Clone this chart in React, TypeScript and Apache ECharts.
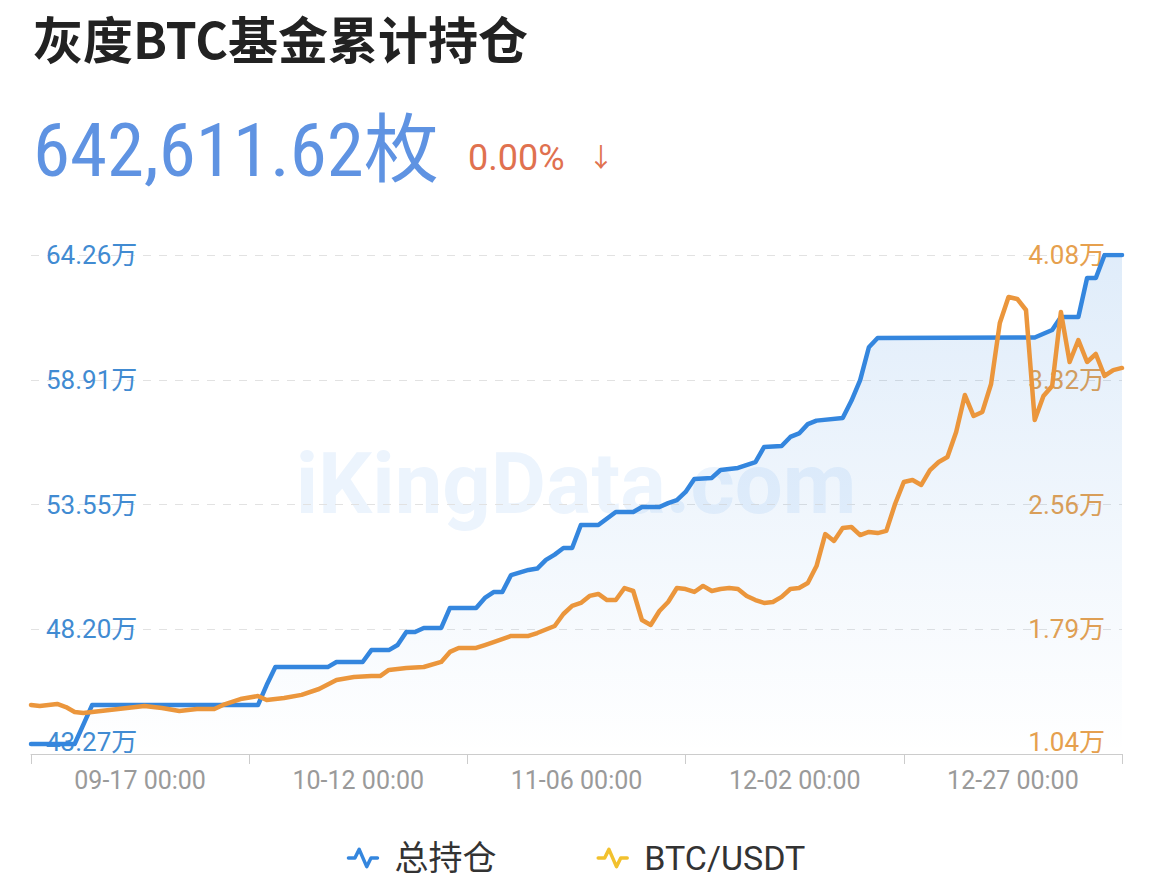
import React, { useEffect, useRef } from 'react';
import * as echarts from 'echarts';

const TITLE = '灰度BTC基金累计持仓';
const HOLDING_TEXT = '642,611.62枚';
const CHANGE_TEXT = '0.00%';
const CHANGE_ARROW = '↓';
const WATERMARK = 'iKingData.com';

const seriesNames = ['总持仓', 'BTC/USDT'];
const xCategoryLabels = ['09-17 00:00', '10-12 00:00', '11-06 00:00', '12-02 00:00', '12-27 00:00'];
const dateRange = ['2020-09-05', '2021-01-08'];

const leftTickValues = [428400, 481950, 535500, 589050, 642600];
const leftTickLabels = ['43.27万', '48.20万', '53.55万', '58.91万', '64.26万'];
const rightTickValues = [10400, 18000, 25600, 33200, 40800];
const rightTickLabels = ['1.04万', '1.79万', '2.56万', '3.32万', '4.08万'];

const holdingDates = [
  '2020-09-05', '2020-09-10', '2020-09-11', '2020-09-12', '2020-10-01', '2020-10-02', '2020-10-03',
  '2020-10-09', '2020-10-10', '2020-10-13', '2020-10-14', '2020-10-16', '2020-10-17', '2020-10-18',
  '2020-10-19', '2020-10-20', '2020-10-22', '2020-10-23', '2020-10-26', '2020-10-27', '2020-10-28',
  '2020-10-29', '2020-10-30', '2020-11-01', '2020-11-02', '2020-11-03', '2020-11-04', '2020-11-05',
  '2020-11-06', '2020-11-07', '2020-11-09', '2020-11-11', '2020-11-13', '2020-11-14', '2020-11-16',
  '2020-11-17', '2020-11-18', '2020-11-19', '2020-11-20', '2020-11-22', '2020-11-23', '2020-11-25',
  '2020-11-27', '2020-11-28', '2020-11-30', '2020-12-01', '2020-12-02', '2020-12-03', '2020-12-04',
  '2020-12-07', '2020-12-08', '2020-12-09', '2020-12-10', '2020-12-11', '2020-12-29', '2020-12-31',
  '2021-01-01', '2021-01-03', '2021-01-04', '2021-01-05', '2021-01-06', '2021-01-08',
];
const holdingValues = [
  432700, 432700, 441000, 449400, 449400, 458000, 465700,
  465700, 467900, 467900, 473000, 473000, 475200, 480800,
  480800, 482500, 482500, 491100, 491100, 495400, 497900,
  497900, 505200, 507400, 508000, 511700, 514000, 516800,
  516800, 526700, 526700, 532300, 532300, 534400, 534400,
  536100, 537400, 540900, 546400, 546900, 550300, 551200,
  553700, 560200, 560600, 564500, 566000, 570000, 571500,
  572600, 580000, 588900, 603000, 607000, 607200, 610400,
  616000, 616000, 632700, 632700, 642611.62, 642611.62,
];

const priceDates = [
  '2020-09-05', '2020-09-06', '2020-09-07', '2020-09-08', '2020-09-09', '2020-09-10', '2020-09-11',
  '2020-09-12', '2020-09-14', '2020-09-16', '2020-09-18', '2020-09-20', '2020-09-22', '2020-09-24',
  '2020-09-26', '2020-09-27', '2020-09-29', '2020-10-01', '2020-10-02', '2020-10-04', '2020-10-06',
  '2020-10-08', '2020-10-10', '2020-10-12', '2020-10-14', '2020-10-15', '2020-10-16', '2020-10-18',
  '2020-10-20', '2020-10-22', '2020-10-23', '2020-10-24', '2020-10-26', '2020-10-27', '2020-10-28',
  '2020-10-30', '2020-11-01', '2020-11-02', '2020-11-04', '2020-11-05', '2020-11-06', '2020-11-07',
  '2020-11-08', '2020-11-09', '2020-11-10', '2020-11-11', '2020-11-12', '2020-11-13', '2020-11-14',
  '2020-11-15', '2020-11-16', '2020-11-17', '2020-11-18', '2020-11-19', '2020-11-20', '2020-11-21',
  '2020-11-22', '2020-11-23', '2020-11-24', '2020-11-25', '2020-11-26', '2020-11-27', '2020-11-28',
  '2020-11-29', '2020-11-30', '2020-12-01', '2020-12-02', '2020-12-03', '2020-12-04', '2020-12-05',
  '2020-12-06', '2020-12-07', '2020-12-08', '2020-12-09', '2020-12-10', '2020-12-11', '2020-12-12',
  '2020-12-13', '2020-12-14', '2020-12-15', '2020-12-16', '2020-12-17', '2020-12-18', '2020-12-19',
  '2020-12-20', '2020-12-21', '2020-12-22', '2020-12-23', '2020-12-24', '2020-12-25', '2020-12-26',
  '2020-12-27', '2020-12-28', '2020-12-29', '2020-12-30', '2020-12-31', '2021-01-01', '2021-01-02',
  '2021-01-03', '2021-01-04', '2021-01-05', '2021-01-06', '2021-01-07', '2021-01-08',
];
const priceValues = [
  13390, 13330, 13390, 13450, 13260, 12960, 12900,
  12960, 13080, 13200, 13330, 13200, 13020, 13140,
  13140, 13390, 13750, 13930, 13690, 13810, 14000,
  14360, 14910, 15090, 15150, 15150, 15520, 15640,
  15700, 16010, 16620, 16860, 16860, 17040, 17220,
  17590, 17590, 17770, 18200, 18930, 19420, 19600,
  20030, 20150, 19780, 19780, 20510, 20330, 18560,
  18260, 19110, 19660, 20510, 20450, 20270, 20640,
  20330, 20450, 20510, 20450, 20030, 19780, 19600,
  19660, 19970, 20450, 20510, 20820, 21850, 23800,
  23380, 24170, 24230, 23740, 23930, 23860, 23990,
  25630, 26970, 27090, 26790, 27700, 28190, 28490,
  30020, 32270, 30990, 31240, 32940, 36660, 38240,
  38120, 37450, 30750, 32210, 32820, 37330, 34280,
  35620, 34280, 34770, 33430, 33790, 33920,
];

const BLUE = '#3486de';
const ORANGE = '#eb963c';
const LEGEND_YELLOW = '#f2c12e';
const LEFT_LABEL = '#418bd2';
const RIGHT_LABEL = '#e6a04e';
const SANS = 'Roboto, "Noto Sans CJK SC", sans-serif';
const NARROW = '"Liberation Sans Narrow", "Roboto Condensed", Roboto, "Noto Sans CJK SC", sans-serif';

function labelFor(values: number[], labels: string[], v: number): string {
  for (let i = 0; i < values.length; i++) {
    if (Math.abs(values[i] - v) < 1) {
      return i === 0 ? '{min|' + labels[i] + '}' : labels[i];
    }
  }
  return '';
}

export default function App() {
  const ref = useRef<HTMLDivElement>(null);

  useEffect(() => {
    if (!ref.current) return;
    const chart = echarts.init(ref.current, undefined, { renderer: 'svg' });
    const legendIcon = 'path://M0,11 L6,11 L10,3 L17,19 L21,11 L27,11';
    const option = {
      animation: false,
      backgroundColor: '#ffffff',
      title: {
        text: TITLE,
        left: 33,
        top: 12,
        padding: 0,
        textStyle: { fontSize: 50, fontWeight: 'bold', color: '#222222', fontFamily: '"Noto Sans CJK SC", sans-serif' },
      },
      graphic: [
        {
          type: 'text',
          x: 576,
          y: 484,
          z: 0,
          silent: true,
          style: {
            text: WATERMARK,
            fontSize: 85,
            fontWeight: 'bold',
            fontFamily: 'Roboto, sans-serif',
            fill: '#ecf4fd',
            align: 'center',
            verticalAlign: 'middle',
          },
        },
        {
          type: 'text',
          x: 33,
          y: 150,
          style: {
            text: HOLDING_TEXT,
            fontSize: 75,
            fontFamily: NARROW,
            fill: '#5f93e2',
            verticalAlign: 'middle',
          },
        },
        {
          type: 'text',
          x: 468,
          y: 158,
          style: {
            text: CHANGE_TEXT,
            fontSize: 36,
            fontFamily: SANS,
            fill: '#e0714f',
            verticalAlign: 'middle',
          },
        },
        {
          type: 'text',
          x: 588,
          y: 158,
          style: {
            text: CHANGE_ARROW,
            fontSize: 26,
            fontFamily: SANS,
            fill: '#e0714f',
            verticalAlign: 'middle',
          },
        },
      ],
      legend: {
        top: 836,
        left: 'center',
        itemWidth: 29,
        itemHeight: 22,
        itemGap: 100,
        icon: legendIcon,
        textStyle: { fontSize: 34, color: '#333333', fontFamily: SANS, padding: [0, 0, 0, 12] },
        data: [
          { name: seriesNames[0], itemStyle: { color: 'rgba(0,0,0,0)', borderColor: BLUE, borderWidth: 3.5, borderJoin: 'round', borderCap: 'round' } },
          { name: seriesNames[1], itemStyle: { color: 'rgba(0,0,0,0)', borderColor: LEGEND_YELLOW, borderWidth: 3.5, borderJoin: 'round', borderCap: 'round' } },
        ],
      },
      grid: { left: 31, right: 30, top: 255, bottom: 127, containLabel: false },
      xAxis: [
        {
          type: 'time',
          show: false,
          position: 'top',
          min: dateRange[0],
          max: dateRange[1],
        },
        {
          type: 'category',
          position: 'bottom',
          data: xCategoryLabels,
          boundaryGap: true,
          axisLine: { show: true, lineStyle: { color: '#cccccc', width: 1 } },
          axisTick: { show: true, length: 10, lineStyle: { color: '#cccccc' } },
          axisLabel: { color: '#9a9a9a', fontSize: 25, margin: 14, fontFamily: SANS },
          splitLine: { show: false },
        },
      ],
      yAxis: [
        {
          type: 'value',
          position: 'left',
          min: leftTickValues[0],
          max: leftTickValues[leftTickValues.length - 1],
          interval: leftTickValues[1] - leftTickValues[0],
          axisLine: { show: false },
          axisTick: { show: false },
          splitLine: { show: true, lineStyle: { color: '#e2e2e2', type: [8, 8], width: 1 } },
          axisLabel: {
            inside: true,
            margin: 15,
            color: LEFT_LABEL,
            fontSize: 26,
            fontFamily: SANS,
            formatter: (v: number) => labelFor(leftTickValues, leftTickLabels, v),
            rich: { min: { color: LEFT_LABEL, fontSize: 26, fontFamily: SANS, padding: [0, 0, 24, 0] } },
          },
        },
        {
          type: 'value',
          position: 'right',
          min: rightTickValues[0],
          max: rightTickValues[rightTickValues.length - 1],
          axisLine: { show: false },
          axisTick: { show: false },
          splitLine: { show: false },
          axisLabel: {
            inside: true,
            margin: 17,
            color: RIGHT_LABEL,
            fontSize: 26,
            fontFamily: SANS,
            customValues: rightTickValues,
            formatter: (v: number) => labelFor(rightTickValues, rightTickLabels, v),
            rich: { min: { color: RIGHT_LABEL, fontSize: 26, fontFamily: SANS, padding: [0, 0, 24, 0] } },
          },
        },
      ],
      series: [
        {
          name: seriesNames[0],
          type: 'line',
          xAxisIndex: 0,
          yAxisIndex: 0,
          data: holdingDates.map((d, i) => [d, holdingValues[i]]),
          symbol: 'none',
          showSymbol: false,
          z: 2,
          itemStyle: { color: BLUE },
          lineStyle: { color: BLUE, width: 4.5, join: 'round', cap: 'round' },
          areaStyle: {
            color: new echarts.graphic.LinearGradient(0, 0, 0, 1, [
              { offset: 0, color: 'rgba(52,134,222,0.22)' },
              { offset: 1, color: 'rgba(52,134,222,0.0)' },
            ]),
          },
        },
        {
          name: seriesNames[1],
          type: 'line',
          xAxisIndex: 0,
          yAxisIndex: 1,
          data: priceDates.map((d, i) => [d, priceValues[i]]),
          symbol: 'none',
          showSymbol: false,
          z: 3,
          itemStyle: { color: ORANGE },
          lineStyle: { color: ORANGE, width: 4.5, join: 'round', cap: 'round' },
        },
      ],
    };
    chart.setOption(option as any);
    return () => {
      chart.dispose();
    };
  }, []);

  return (
    <div
      ref={ref}
      style={{ position: 'absolute', left: 0, top: 0, width: 1152, height: 881, background: '#ffffff' }}
    />
  );
}
